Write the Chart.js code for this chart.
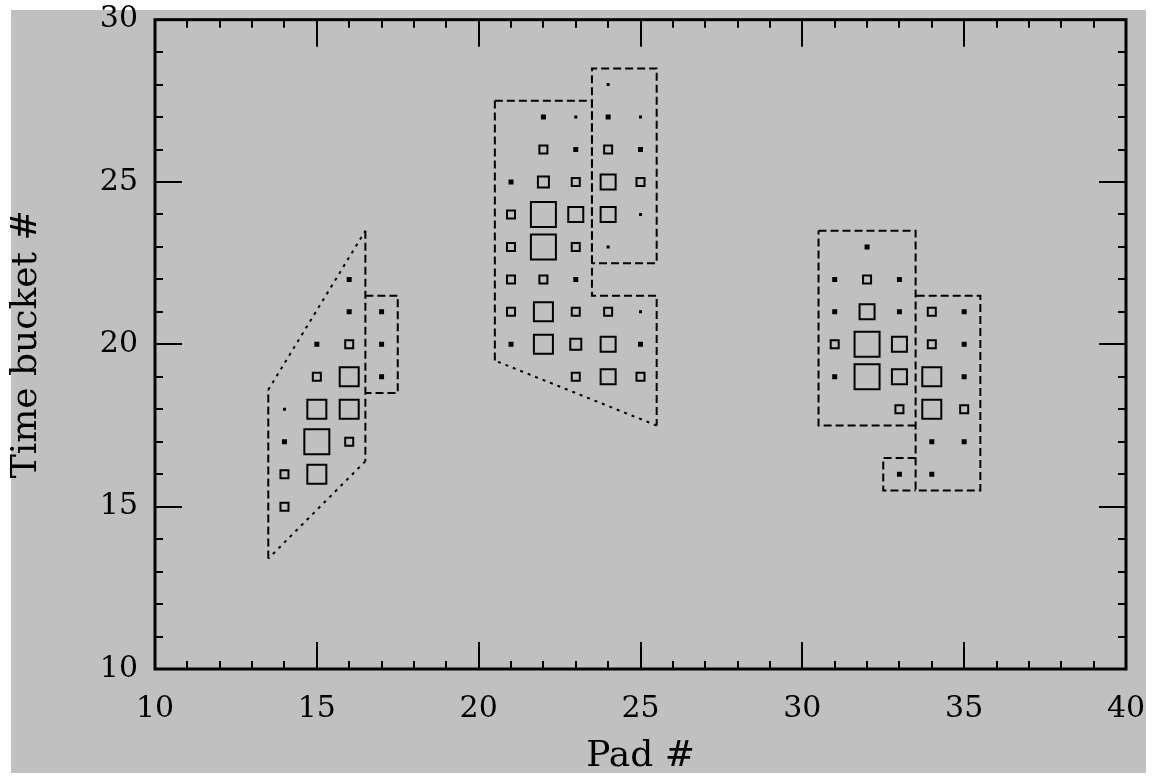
<!DOCTYPE html>
<html>
<head>
<meta charset="utf-8">
<script src="https://cdn.jsdelivr.net/npm/chart.js@4.4.0/dist/chart.umd.min.js"></script>
<style>
  html, body { margin: 0; padding: 0; background: #fff; }
  #box { width: 1157px; height: 779px; }
</style>
</head>
<body>
<div id="box"><canvas id="padChart"></canvas></div>
<script>
// hits: pad number, time bucket, charge level (1 = faint dot ... 7 = biggest box)
const padNo = [
  14, 14, 14, 14,
  15, 15, 15, 15, 15,
  16, 16, 16, 16, 16, 16,
  17, 17, 17,
  22, 23, 24, 25, 24,
  22, 23, 24, 25,
  21, 22, 23, 24, 25,
  21, 22, 23, 24, 25,
  21, 22, 23, 24,
  21, 22, 23,
  21, 22, 23, 24, 25,
  21, 22, 23, 24, 25,
  23, 24, 25,
  32,
  31, 32, 33,
  31, 32, 33, 34, 35,
  31, 32, 33, 34, 35,
  31, 32, 33, 34, 35,
  33, 34, 35,
  34, 35,
  33, 34
];
const timeBucket = [
  18, 17, 16, 15,
  20, 19, 18, 17, 16,
  22, 21, 20, 19, 18, 17,
  21, 20, 19,
  27, 27, 27, 27, 28,
  26, 26, 26, 26,
  25, 25, 25, 25, 25,
  24, 24, 24, 24, 24,
  23, 23, 23, 23,
  22, 22, 22,
  21, 21, 21, 21, 21,
  20, 20, 20, 20, 20,
  19, 19, 19,
  23,
  22, 22, 22,
  21, 21, 21, 21, 21,
  20, 20, 20, 20, 20,
  19, 19, 19, 19, 19,
  18, 18, 18,
  17, 17,
  16, 16
];
const charge = [
  1, 2, 3, 3,
  2, 3, 6, 7, 6,
  2, 2, 3, 6, 6, 3,
  2, 2, 2,
  2, 1, 2, 1, 1,
  3, 2, 3, 2,
  2, 4, 3, 5, 3,
  3, 7, 5, 5, 1,
  3, 7, 3, 1,
  3, 3, 2,
  3, 6, 3, 3, 1,
  2, 6, 4, 5, 2,
  3, 5, 3,
  2,
  2, 3, 2,
  2, 5, 2, 3, 2,
  3, 7, 5, 3, 2,
  2, 7, 5, 6, 2,
  3, 6, 3,
  2, 2,
  2, 2
];

// cluster boundaries, [pad, bucket] corners
const cluster1 = [[13.5, 18.6], [16.5, 23.5], [16.5, 16.4], [13.5, 13.4], [13.5, 18.6]];
const cluster1b = [[16.5, 21.5], [17.5, 21.5], [17.5, 18.5], [16.5, 18.5]];
const cluster2 = [[20.5, 27.5], [23.5, 27.5], [23.5, 21.5], [25.5, 21.5], [25.5, 17.5], [20.5, 19.5], [20.5, 27.5]];
const cluster2b = [[23.5, 22.5], [23.5, 28.5], [25.5, 28.5], [25.5, 22.5], [23.5, 22.5]];
const cluster3 = [[30.5, 23.5], [33.5, 23.5], [33.5, 15.5], [35.5, 15.5], [35.5, 21.5], [33.5, 21.5]];
const cluster3b = [[33.5, 17.5], [30.5, 17.5], [30.5, 23.5]];
const cluster3c = [[33.5, 16.5], [32.5, 16.5], [32.5, 15.5], [33.5, 15.5]];

const xTicks = [10, 15, 20, 25, 30, 35, 40];
const yTicks = [10, 15, 20, 25, 30];

const FONT = "'DejaVu Serif', serif";
const boxSide = {1: 3, 2: 5, 3: 8, 4: 11, 5: 15, 6: 19, 7: 25};

function outline(pts) {
  return {
    type: 'scatter',
    data: pts.map(p => ({x: p[0], y: p[1]})),
    showLine: true,
    pointRadius: 0,
    borderColor: '#000',
    borderWidth: 2,
    borderDash: [8, 4],
    segment: {
      borderDash: ctx => (ctx.p0.parsed.x !== ctx.p1.parsed.x && ctx.p0.parsed.y !== ctx.p1.parsed.y) ? [3, 5] : undefined
    }
  };
}

const hits = padNo.map((p, i) => ({x: p, y: timeBucket[i], q: charge[i]}));

function noOverflow(s) {
  s.paddingTop = 0; s.paddingBottom = 0; s.paddingLeft = 0; s.paddingRight = 0;
}

const frameAndTicks = {
  id: 'frameAndTicks',
  beforeDraw(chart) {
    const c = chart.ctx;
    c.save();
    c.fillStyle = '#c0c0c0';
    c.fillRect(11, 10, 1135, 763);
    c.restore();
  },
  afterDatasetsDraw(chart) {
    const c = chart.ctx;
    const a = chart.chartArea;
    const xs = chart.scales.x, ys = chart.scales.y;
    c.save();
    c.strokeStyle = '#000';
    c.lineWidth = 2;
    c.beginPath();
    for (let v = xs.min; v <= xs.max; v++) {
      const px = Math.round(xs.getPixelForValue(v));
      const len = v % 5 === 0 ? 27 : 8;
      c.moveTo(px, a.bottom); c.lineTo(px, a.bottom - len);
      c.moveTo(px, a.top); c.lineTo(px, a.top + len);
    }
    for (let v = ys.min; v <= ys.max; v++) {
      const py = Math.round(ys.getPixelForValue(v));
      const len = v % 5 === 0 ? 27 : 8;
      c.moveTo(a.left, py); c.lineTo(a.left + len, py);
      c.moveTo(a.right, py); c.lineTo(a.right - len, py);
    }
    c.stroke();
    c.lineWidth = 3;
    c.strokeRect(a.left, a.top, a.right - a.left, a.bottom - a.top);
    c.restore();
  }
};

new Chart(document.getElementById('padChart'), {
  type: 'scatter',
  data: {
    datasets: [
      {
        data: hits,
        pointStyle: 'rect',
        pointRadius: ctx => boxSide[ctx.raw.q] / Math.SQRT2,
        backgroundColor: ctx => ctx.raw.q <= 2 ? '#000' : 'rgba(0,0,0,0)',
        borderColor: '#000',
        borderWidth: ctx => ctx.raw.q <= 2 ? 0 : 2
      },
      outline(cluster1), outline(cluster1b),
      outline(cluster2), outline(cluster2b),
      outline(cluster3), outline(cluster3b), outline(cluster3c)
    ]
  },
  plugins: [frameAndTicks],
  options: {
    responsive: true,
    maintainAspectRatio: false,
    animation: false,
    events: [],
    layout: { padding: { left: 7, top: 19, right: 31, bottom: 4 } },
    plugins: { legend: { display: false }, tooltip: { enabled: false } },
    scales: {
      x: {
        type: 'linear',
        min: 10,
        max: 40,
        afterBuildTicks: s => { s.ticks = xTicks.map(v => ({value: v})); },
        afterFit: s => { s.height = 106; noOverflow(s); },
        ticks: { color: '#000', font: { family: FONT, size: 30 }, padding: 22, maxRotation: 0, autoSkip: false },
        grid: { display: false, drawTicks: false },
        border: { display: false },
        title: { display: true, text: 'Pad #', color: '#000', font: { family: FONT, size: 36, lineHeight: 1 }, padding: { top: 0, bottom: 0 } }
      },
      y: {
        type: 'linear',
        min: 10,
        max: 30,
        afterBuildTicks: s => { s.ticks = yTicks.map(v => ({value: v})); },
        afterFit: s => { s.width = 148; noOverflow(s); },
        ticks: { color: '#000', font: { family: FONT, size: 30 }, padding: 17, autoSkip: false },
        grid: { display: false, drawTicks: false },
        border: { display: false },
        title: { display: true, text: 'Time bucket #', color: '#000', font: { family: FONT, size: 36, lineHeight: 1 }, padding: { top: 2, bottom: 0 } }
      }
    }
  }
});
</script>
</body>
</html>
